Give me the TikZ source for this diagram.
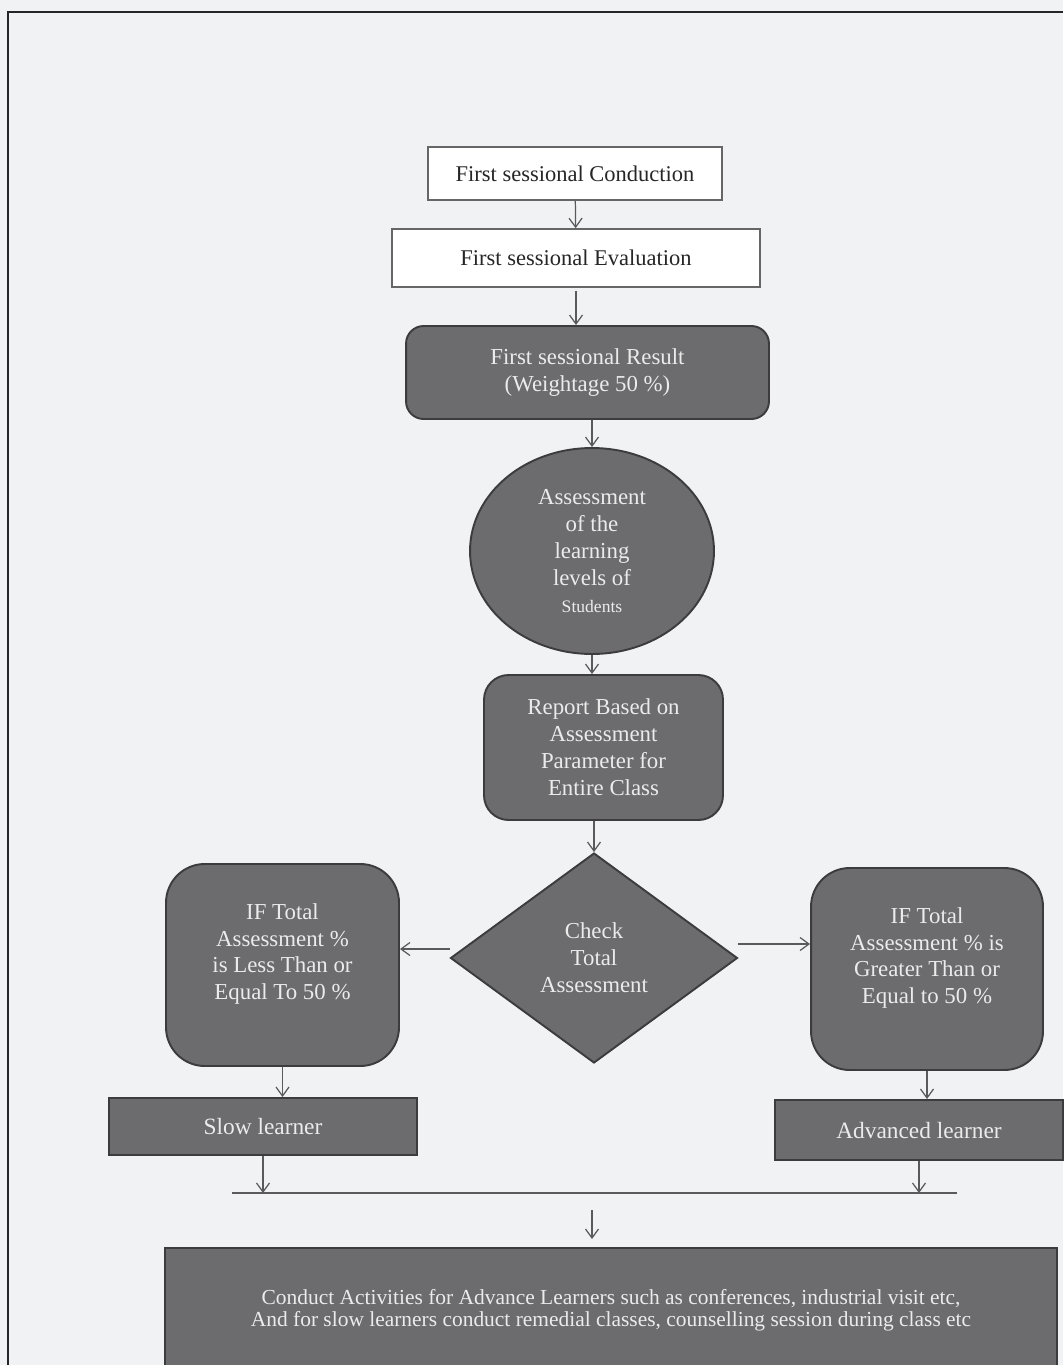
\documentclass[tikz,border=0pt]{standalone}
\usepackage{fontspec}
\setmainfont{Liberation Serif}
\usetikzlibrary{shapes.geometric,arrows.meta}
\definecolor{paper}{RGB}{241,242,244}
\definecolor{boxfill}{RGB}{108,108,110}
\definecolor{boxline}{RGB}{60,60,62}
\definecolor{arrowgray}{RGB}{90,90,92}
\begin{document}
\begin{tikzpicture}[x=0.02cm,y=-0.02cm,
	lightbox/.style={draw=gray!80!black, fill=white, line width=0.9pt, font=\fontsize{12.8}{15}\selectfont, text=black!85, inner sep=0pt},
	darkbox/.style={draw=boxline, fill=boxfill, line width=1.1pt, font=\fontsize{13}{15.3}\selectfont, text=white!92!black, align=center, inner sep=0pt},
	arr/.style={draw=arrowgray, line width=0.7pt, -{Straight Barb[length=1.8mm,width=2.6mm]}}]
		\useasboundingbox (0,0) rectangle (1063,1365);
		\fill[paper] (0,0) rectangle (1063,1365);
		\draw[line width=1.6pt, black!85] (8,1365) -- (8,12) -- (1063,12);
		\node[lightbox, minimum width=5.88cm, minimum height=1.06cm] (conduct) at (575,173.5) {First sessional Conduction};
		\node[lightbox, minimum width=7.36cm, minimum height=1.16cm] (evaluate) at (576,258) {First sessional Evaluation};
		\node[darkbox, rounded corners=10pt, minimum width=7.26cm, minimum height=1.86cm] (result) at (587.5,372.5) {First sessional Result\\(Weightage 50 \%)};
		\node[darkbox, ellipse, minimum width=4.88cm, minimum height=4.12cm] (assess) at (592,551) {Assessment\\of the\\learning\\levels of\\{\fontsize{10}{12}\selectfont Students}};
		\node[darkbox, rounded corners=14pt, minimum width=4.78cm, minimum height=2.9cm] (report) at (603.5,747.5) {Report Based on\\Assessment\\Parameter for\\Entire Class};
		\node[darkbox, diamond, minimum width=5.74cm, minimum height=4.2cm] (check) at (594,958) {Check\\Total\\Assessment};
		\node[darkbox, rounded corners=22pt, minimum width=4.66cm, minimum height=4.04cm] (less) at (282.5,965) {IF Total\\Assessment \%\\is Less Than or\\Equal To 50 \%\\};
		\node[darkbox, rounded corners=22pt, minimum width=4.64cm, minimum height=4.04cm] (greater) at (927,969) {IF Total\\Assessment \% is\\Greater Than or\\Equal to 50 \%\\};
		\node[darkbox, minimum width=6.16cm, minimum height=1.14cm, font=\fontsize{13.3}{15}\selectfont] (slow) at (263,1126.5) {Slow learner};
		\node[darkbox, minimum width=5.76cm, minimum height=1.2cm, font=\fontsize{13.3}{15}\selectfont] (advanced) at (919,1130) {Advanced learner};
		\node[darkbox, minimum width=17.84cm, minimum height=2.48cm, font=\fontsize{12.2}{12.8}\selectfont] (activities) at (611,1310) {Conduct Activities for Advance Learners such as conferences, industrial visit etc,\\And for slow learners conduct remedial classes, counselling session during class etc};
		\coordinate (joinL) at (232,1193);
		\coordinate (joinR) at (957,1193);
		\coordinate (joinM) at (592,1210);
		\draw[arr] (conduct) -- (evaluate);
		\draw[arr, shorten <=0.06cm] (evaluate.south) -- (evaluate.south |- result.north);
		\draw[arr] (assess.north |- result.south) -- (assess.north);
		\draw[arr] (assess.south) -- (assess.south |- report.north);
		\draw[arr] (check.north |- report.south) -- (check.north);
		\draw[arr] ([yshift=0.18cm]check.west) -- ([yshift=0.18cm]check.west -| less.east);
		\draw[arr] ([yshift=0.28cm]check.east) -- ([yshift=0.28cm]check.east -| greater.west);
		\draw[arr] (less.south) -- (less.south |- slow.north);
		\draw[arr] (greater.south) -- (greater.south |- advanced.north);
		\draw[arr] (slow.south) -- (slow.south |- joinL);
		\draw[arr] (advanced.south) -- (advanced.south |- joinR);
		\draw[arrowgray, line width=0.8pt] (joinL) -- (joinR);
		\draw[arr, shorten >=0.16cm] (joinM) -- (joinM |- activities.north);
	\end{tikzpicture}
\end{document}
